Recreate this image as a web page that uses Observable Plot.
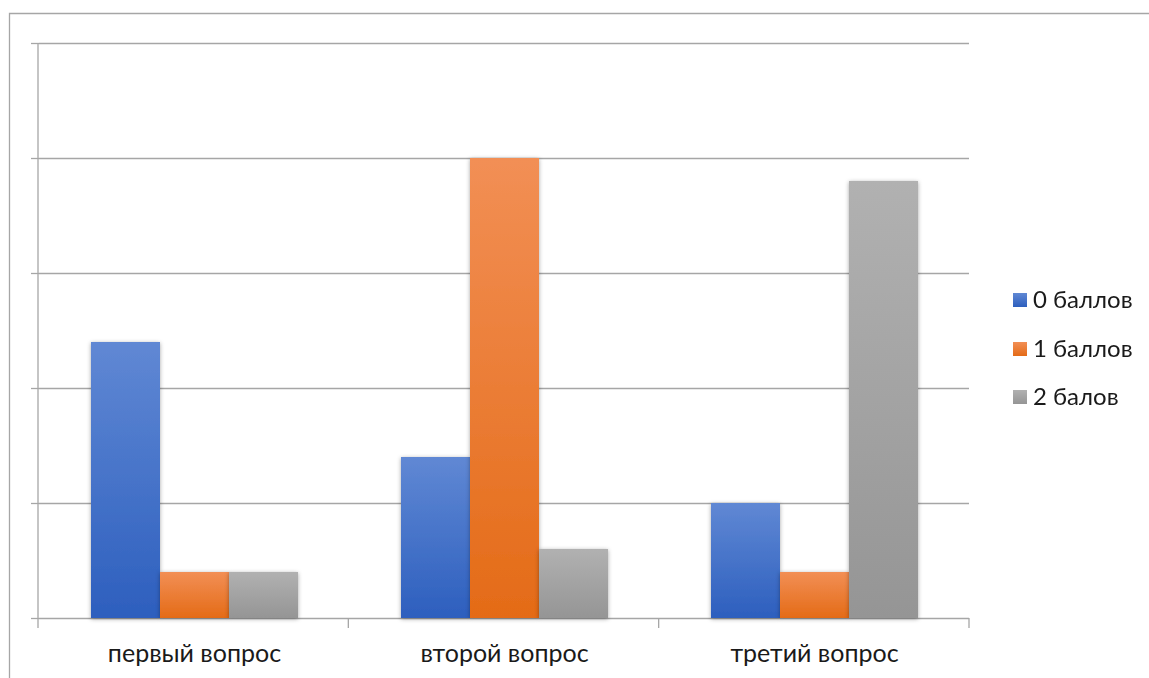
<!DOCTYPE html>
<html>
<head>
<meta charset="utf-8">
<script src="https://cdn.jsdelivr.net/npm/d3@7"></script>
<script src="https://cdn.jsdelivr.net/npm/@observablehq/plot@0.6"></script>
<style>
  html, body { margin: 0; padding: 0; background: #fff; }
  #chart svg { display: block; font-family: Lato, "Noto Sans", sans-serif; }
</style>
</head>
<body>
<div id="chart"></div>
<script>
// Categories (questions) and score groups
const categories = ["первый вопрос", "второй вопрос", "третий вопрос"];
const seriesNames = ["0 баллов", "1 баллов", "2 балов"];

// Values per score group, one per question
const values0 = [2.4, 1.4, 1.0];
const values1 = [0.4, 4.0, 0.4];
const values2 = [0.4, 0.6, 3.8];

// Gridline values on the value axis
const yTicks = [0, 1, 2, 3, 4, 5];

// Series colours: [top of gradient, bottom of gradient]
const seriesGradients = [
  ["#6088d4", "#2d5fbe"],
  ["#f28f55", "#e46b17"],
  ["#b1b1b1", "#959595"]
];
const gridColor = "#a6a6a6";
const textColor = "#1a1a1a";

const seriesValues = [values0, values1, values2];
const rows = seriesNames.flatMap((s, i) =>
  categories.map((c, j) => ({category: c, series: s, value: seriesValues[i][j]}))
);

const W = 1149, H = 678;
const axisFontSize = 25;
const legendFontSize = 24;

const plot = Plot.plot({
  width: W,
  height: H,
  marginLeft: 38,
  marginRight: 180,
  marginTop: 43,
  marginBottom: 60,
  style: {background: "transparent", color: textColor},
  fx: {domain: categories, padding: 0, label: null},
  x: {domain: seriesNames, paddingInner: 0, paddingOuter: 0.73, axis: null},
  y: {domain: [0, 5], axis: null},
  marks: [
    Plot.ruleY(yTicks, {stroke: gridColor, strokeWidth: 1.3}),
    Plot.axisY({ticks: yTicks, tickSize: 8, tickFormat: () => "", stroke: gridColor, strokeWidth: 1.3, strokeOpacity: 1, label: null}),
    ...seriesNames.map((s, i) =>
      Plot.barY(rows, {
        filter: d => d.series === s,
        fx: "category",
        x: "series",
        y: "value",
        fill: `url(#bar-grad-${i})`
      })
    ),
    Plot.axisFx({anchor: "bottom", tickSize: 0, tickPadding: 26, fontSize: axisFontSize, label: null, fill: textColor})
  ]
});

document.getElementById("chart").appendChild(plot);

const svg = d3.select(plot);
const defs = svg.insert("defs", ":first-child");

seriesGradients.forEach(([top, bottom], i) => {
  const g = defs.append("linearGradient")
    .attr("id", `bar-grad-${i}`)
    .attr("x1", 0).attr("y1", 0).attr("x2", 0).attr("y2", 1);
  g.append("stop").attr("offset", "0%").attr("stop-color", top);
  g.append("stop").attr("offset", "100%").attr("stop-color", bottom);
});

const shadow = defs.append("filter").attr("id", "bar-shadow")
  .attr("x", "-20%").attr("y", "-20%").attr("width", "140%").attr("height", "140%");
shadow.append("feDropShadow")
  .attr("dx", 0).attr("dy", 1).attr("stdDeviation", 2.2)
  .attr("flood-color", "#000").attr("flood-opacity", 0.35);

svg.selectAll("g[aria-label='bar']").attr("filter", "url(#bar-shadow)");

// Scales from the plot, used for the frame lines and legend
const fxScale = plot.scale("fx");
const yScale = plot.scale("y");
const band = d3.scaleBand(fxScale.domain, fxScale.range)
  .paddingInner(fxScale.paddingInner).paddingOuter(fxScale.paddingOuter);
const y0 = yScale.apply(0);
const yTop = yScale.apply(d3.max(yTicks));

const overlay = svg.append("g").attr("stroke", gridColor).attr("stroke-width", 1.3).attr("fill", "none");

// outer chart border
overlay.append("path").attr("d", `M9.5,${H}V13.5H${W}`);

// value-axis line
const xLeft = band(categories[0]);
overlay.append("line").attr("x1", xLeft).attr("x2", xLeft).attr("y1", yTop).attr("y2", y0);

// category tick marks between groups
const edges = categories.map(c => band(c)).concat([band(categories[categories.length - 1]) + band.bandwidth()]);
overlay.selectAll("line.cat-tick").data(edges).join("line")
  .attr("class", "cat-tick")
  .attr("x1", d => d).attr("x2", d => d)
  .attr("y1", y0).attr("y2", y0 + 10);

// legend
const legendX = fxScale.range[1] + 44;
const legendY = [300, 349, 397];
const legend = svg.append("g")
  .attr("font-size", legendFontSize)
  .attr("text-anchor", "start")
  .attr("fill", textColor);
seriesNames.forEach((s, i) => {
  const row = legend.append("g").attr("transform", `translate(${legendX},${legendY[i]})`);
  row.append("rect").attr("x", 0).attr("y", -7).attr("width", 14).attr("height", 14)
    .attr("fill", `url(#bar-grad-${i})`);
  row.append("text").attr("x", 20).attr("dy", "0.35em").text(s);
});
</script>
</body>
</html>
